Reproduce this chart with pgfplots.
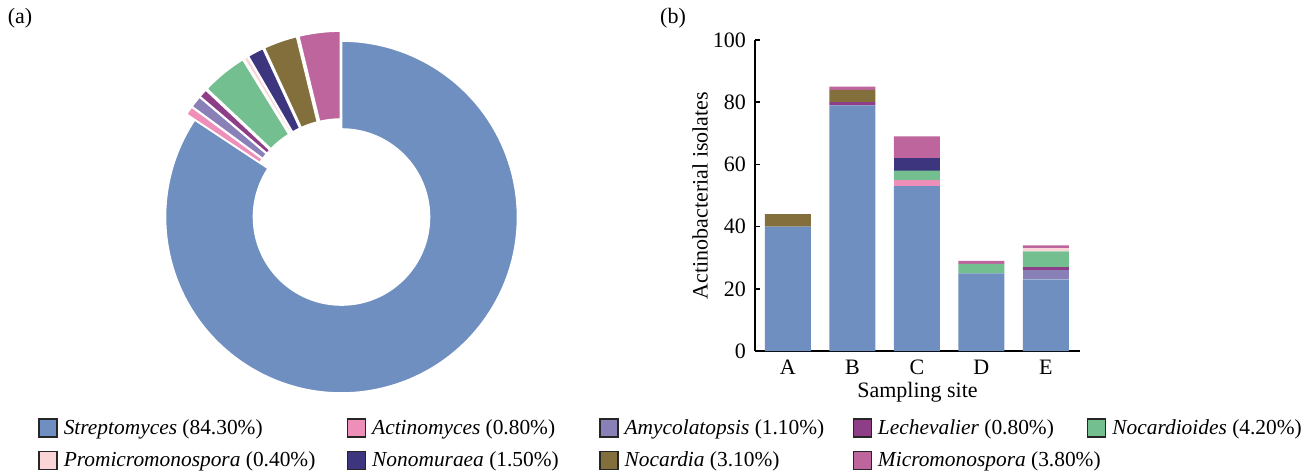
\documentclass[border=0pt]{standalone}
\usepackage{pgfplots}
\pgfplotsset{compat=1.18}
\usepackage{fontspec}
\setmainfont{Liberation Serif}
\definecolor{cS}{RGB}{111,143,192}
\definecolor{cAc}{RGB}{238,143,186}
\definecolor{cAm}{RGB}{138,128,184}
\definecolor{cLe}{RGB}{142,61,135}
\definecolor{cNd}{RGB}{116,191,144}
\definecolor{cPr}{RGB}{250,213,216}
\definecolor{cNo}{RGB}{61,53,126}
\definecolor{cNc}{RGB}{130,111,60}
\definecolor{cMi}{RGB}{190,101,157}
\newcommand{\fs}{\fontsize{11}{13}\selectfont}
\newcommand{\lfs}{\fontsize{10.7}{13}\selectfont}
\begin{document}
\begin{tikzpicture}[x=0.5pt,y=0.5pt]
\path[use as bounding box] (0,0) rectangle (1309,473);
\node[font=\fs] at (20,455) {(a)};
\node[font=\fs] at (673,455) {(b)};
% ---------- donut ----------
\begin{axis}[
  at={(70.75pt,28pt)}, anchor=south west,
  x=0.5pt, y=0.5pt, scale only axis, disabledatascaling,
  xmin=-200, xmax=200, ymin=-200, ymax=200,
  hide axis, clip=false]
\foreach \p/\c/\e [remember=\newcum as \cum (initially 0)] in
  {84.3/cS/0, 0.8/cAc/10, 1.1/cAm/10, 0.8/cLe/10, 4.2/cNd/10,
   0.4/cPr/10, 1.5/cNo/10, 3.1/cNc/10, 3.8/cMi/10}{
  \pgfmathsetmacro\newcum{\cum+\p}
  \pgfmathsetmacro\aS{90-3.6*\cum}
  \pgfmathsetmacro\aE{90-3.6*\newcum}
  \pgfmathsetmacro\aM{(\aS+\aE)/2}
  \pgfmathsetmacro\dx{\e*cos(\aM)}
  \pgfmathsetmacro\dy{\e*sin(\aM)}
  \edef\temp{\noexpand\fill[\c, draw=white, line width=0.8pt]
    (axis cs:{\dx+88*cos(\aS)},{\dy+88*sin(\aS)})
    arc[start angle=\aS, end angle=\aE, radius=44pt]
    -- (axis cs:{\dx+176*cos(\aE)},{\dy+176*sin(\aE)})
    arc[start angle=\aE, end angle=\aS, radius=88pt] -- cycle;}
  \temp
}
\end{axis}
% ---------- stacked bars ----------
\begin{axis}[
  at={(377.5pt,61pt)}, anchor=south west,
  scale only axis, width=162.5pt, height=155.5pt,
  ybar stacked, bar width=23pt,
  xmin=-0.51, xmax=4.53, ymin=0, ymax=100,
  axis lines=left, axis line style={-, line width=0.8pt},
  xtick={0,1,2,3,4}, xticklabels={A,B,C,D,E},
  ytick={0,20,40,60,80,100},
  tick align=inside, major tick length=2.5pt,
  tick style={line width=0.8pt, black},
  tick label style={font=\fs},
  /pgf/number format/assume math mode=true,
  xticklabel style={yshift=-1pt},
  yticklabel style={xshift=-1pt},
  ylabel={Actinobacterial isolates},
  xlabel={Sampling site},
  label style={font=\fs},
  ylabel style={at={(axis description cs:-0.169,0.5)}, anchor=center},
  xlabel style={at={(axis description cs:0.5,-0.132)}, anchor=center},
  legend columns=5,
  legend cell align=left,
  legend image code/.code={\draw[#1, draw=black!85, line width=0.7pt] (0pt,-4.5pt) rectangle (9pt,4.5pt);},
  legend style={at={(axis description cs:-2.2062,-0.2154)}, anchor=north west,
    draw=none, fill=none, inner sep=0pt, font=\lfs,
    column sep=0pt, row sep=6.5pt,
    /tikz/every odd column/.append style={column sep=3pt},
    nodes={inner sep=0pt}},
  every axis plot/.append style={draw=none},
]
\addplot[fill=cS] coordinates {(0,40) (1,79) (2,53) (3,25) (4,23)};
\addlegendentry{\makebox[141.5pt][l]{\textit{Streptomyces} (84.30\%)}}
\addplot[fill=cAc] coordinates {(0,0) (1,0) (2,2) (3,0) (4,0)};
\addlegendentry{\makebox[113.5pt][l]{\textit{Actinomyces} (0.80\%)}}
\addplot[fill=cAm] coordinates {(0,0) (1,0) (2,0) (3,0) (4,3)};
\addlegendentry{\makebox[114pt][l]{\textit{Amycolatopsis} (1.10\%)}}
\addplot[fill=cLe] coordinates {(0,0) (1,1) (2,0) (3,0) (4,1)};
\addlegendentry{\makebox[104.5pt][l]{\textit{Lechevalier} (0.80\%)}}
\addplot[fill=cNd] coordinates {(0,0) (1,0) (2,3) (3,3) (4,5)};
\addlegendentry{\textit{Nocardioides} (4.20\%)}
\addplot[fill=cPr] coordinates {(0,0) (1,0) (2,0) (3,0) (4,1)};
\addlegendentry{\makebox[141.5pt][l]{\textit{Promicromonospora} (0.40\%)}}
\addplot[fill=cNo] coordinates {(0,0) (1,0) (2,4) (3,0) (4,0)};
\addlegendentry{\makebox[113.5pt][l]{\textit{Nonomuraea} (1.50\%)}}
\addplot[fill=cNc] coordinates {(0,4) (1,4) (2,0) (3,0) (4,0)};
\addlegendentry{\makebox[114pt][l]{\textit{Nocardia} (3.10\%)}}
\addplot[fill=cMi] coordinates {(0,0) (1,1) (2,7) (3,1) (4,1)};
\addlegendentry{\makebox[104.5pt][l]{\textit{Micromonospora} (3.80\%)}}
\end{axis}
\end{tikzpicture}
\end{document}
